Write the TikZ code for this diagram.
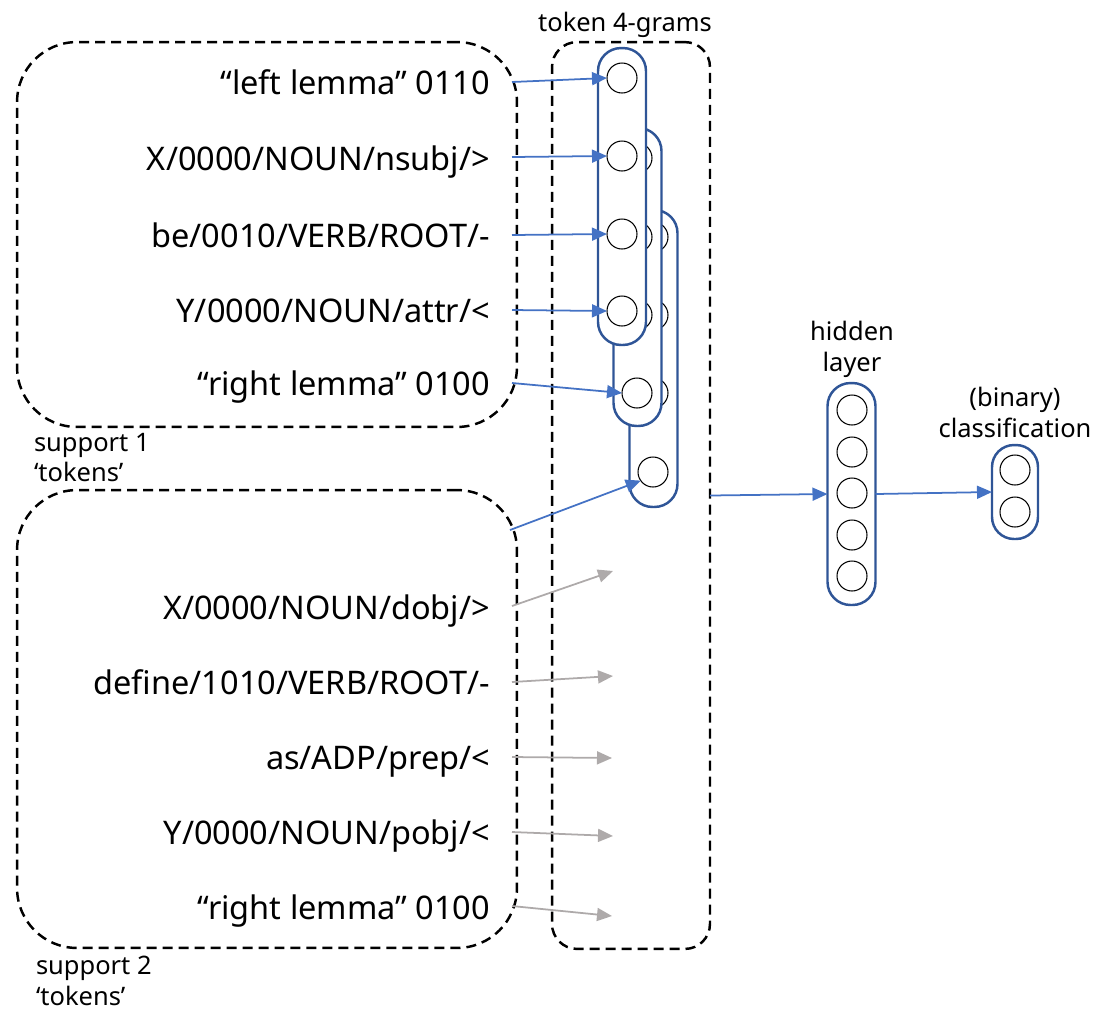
\documentclass[tikz,border=0pt]{standalone}
\usepackage{fontspec}
\setmainfont{Noto Sans}
\usetikzlibrary{arrows.meta}

\definecolor{colblue}{RGB}{47,85,151}
\definecolor{arrowblue}{RGB}{68,114,196}
\definecolor{arrowgray}{RGB}{174,170,170}

\begin{document}
\begin{tikzpicture}[x=0.02cm, y=-0.02cm,
  every node/.style={inner sep=0pt, outer sep=0pt},
  bigtxt/.style={font=\fontsize{18.5}{22}\selectfont, anchor=base east},
  smalltxt/.style={font=\fontsize{14.5}{17.5}\selectfont},
  groupbox/.style={draw=black, line width=1.4pt, dash pattern=on 0.2cm off 0.12cm,
                   rounded corners=1.2cm},
  colbox/.style={draw=colblue, line width=1.4pt, fill=white, rounded corners=0.46cm,
                 minimum width=0.96cm},
  neuron/.style={circle, draw=black, line width=0.6pt, fill=white, minimum size=0.6cm},
  bluearrow/.style={draw=arrowblue, line width=1pt,
                    -{Triangle[length=0.3cm, width=0.26cm]}},
  grayarrow/.style={draw=arrowgray, line width=1pt,
                    -{Triangle[length=0.3cm, width=0.26cm]}}
]
\useasboundingbox (0,0) rectangle (1116,1009);

% dashed groups
\node[groupbox, minimum width=10cm, minimum height=7.7cm] (sup1) at (267,234.5) {};
\node[groupbox, minimum width=10cm, minimum height=9.16cm] (sup2) at (267,719) {};
\node[groupbox, rounded corners=0.5cm, minimum width=3.16cm, minimum height=18.14cm]
  (tok) at (631,495.5) {};

% stacked token 4-gram columns (back to front)
\node[colbox, minimum height=5.94cm] (col3) at (653.5,358.5) {};
\node[neuron] (c31) at (653,237) {};
\node[neuron] (c32) at (653,315) {};
\node[neuron] (c33) at (653,393) {};
\node[neuron] (c34) at (653,472) {};

\node[colbox, minimum height=5.96cm] (col2) at (637.5,277) {};
\node[neuron] (c21) at (637,158) {};
\node[neuron] (c22) at (637,237) {};
\node[neuron] (c23) at (637,315) {};
\node[neuron] (c24) at (637,393) {};

\node[colbox, minimum height=5.94cm] (col1) at (622,196.5) {};
\node[neuron] (c11) at (622,78) {};
\node[neuron] (c12) at (622,156) {};
\node[neuron] (c13) at (622,234) {};
\node[neuron] (c14) at (622,311) {};

% hidden layer
\node[colbox, minimum height=4.44cm] (hid) at (851.5,494) {};
\foreach \i/\y in {1/410,2/452,3/493,4/535,5/576}
  \node[neuron] (h\i) at (852,\y) {};

% classification
\node[colbox, minimum width=0.92cm, rounded corners=0.44cm, minimum height=1.88cm]
  (cls) at (1015,492) {};
\node[neuron] (o1) at (1015,470) {};
\node[neuron] (o2) at (1015,512) {};

% token labels
\node[bigtxt] (t1) at (490,94)  {“left lemma” 0110};
\node[bigtxt] (t2) at (490,170) {X/0000/NOUN/nsubj/>};
\node[bigtxt] (t3) at (490,247) {be/0010/VERB/ROOT/-};
\node[bigtxt] (t4) at (490,322) {Y/0000/NOUN/attr/<};
\node[bigtxt] (t5) at (490,395) {“right lemma” 0100};
\node[bigtxt] (u1) at (490,619) {X/0000/NOUN/dobj/>};
\node[bigtxt] (u2) at (490,694) {define/1010/VERB/ROOT/-};
\node[bigtxt] (u3) at (490,769) {as/ADP/prep/<};
\node[bigtxt] (u4) at (490,844) {Y/0000/NOUN/pobj/<};
\node[bigtxt] (u5) at (490,919) {“right lemma” 0100};

% captions
\node[smalltxt, anchor=base] (captok) at (625,31) {token 4-grams};
\node[smalltxt, align=center, anchor=north] (caphid) at (852,321) {hidden\\layer};
\node[smalltxt, align=center, anchor=north] (capcls) at (1015,387) {(binary)\\classification};
\node[smalltxt, align=left, anchor=north west] (capsup1) at (34,433) {support 1\\‘tokens’};
\node[smalltxt, align=left, anchor=north west] (capsup2) at (36,956) {support 2\\‘tokens’};

% arrow start points
\coordinate (s1) at (512,82);
\coordinate (s2) at (512,157);
\coordinate (s3) at (512,235);
\coordinate (s4) at (512,310);
\coordinate (s5) at (512,383);
\coordinate (s6) at (510,530);
\coordinate (g1) at (512,606);
\coordinate (g2) at (512,682);
\coordinate (g3) at (512,757);
\coordinate (g4) at (512,832);
\coordinate (g5) at (512,906);
\coordinate (e1) at (613,571);
\coordinate (e2) at (613,676);
\coordinate (e3) at (612,758);
\coordinate (e4) at (613,836);
\coordinate (e5) at (612,916);

% support 1 inputs
\draw[bluearrow] (s1) -- (c11.west);
\draw[bluearrow] (s2) -- (c12.west);
\draw[bluearrow] (s3) -- (c13.west);
\draw[bluearrow] (s4) -- (c14.west);
\draw[bluearrow] (s5) -- (c24.west);
\draw[bluearrow] (s6) -- (c34.215);

% support 2 inputs
\draw[grayarrow] (g1) -- (e1);
\draw[grayarrow] (g2) -- (e2);
\draw[grayarrow] (g3) -- (e3);
\draw[grayarrow] (g4) -- (e4);
\draw[grayarrow] (g5) -- (e5);

% network flow
\draw[bluearrow] (tok.east) -- (hid.west);
\draw[bluearrow] (hid.east) -- (cls.west);
\end{tikzpicture}
\end{document}
